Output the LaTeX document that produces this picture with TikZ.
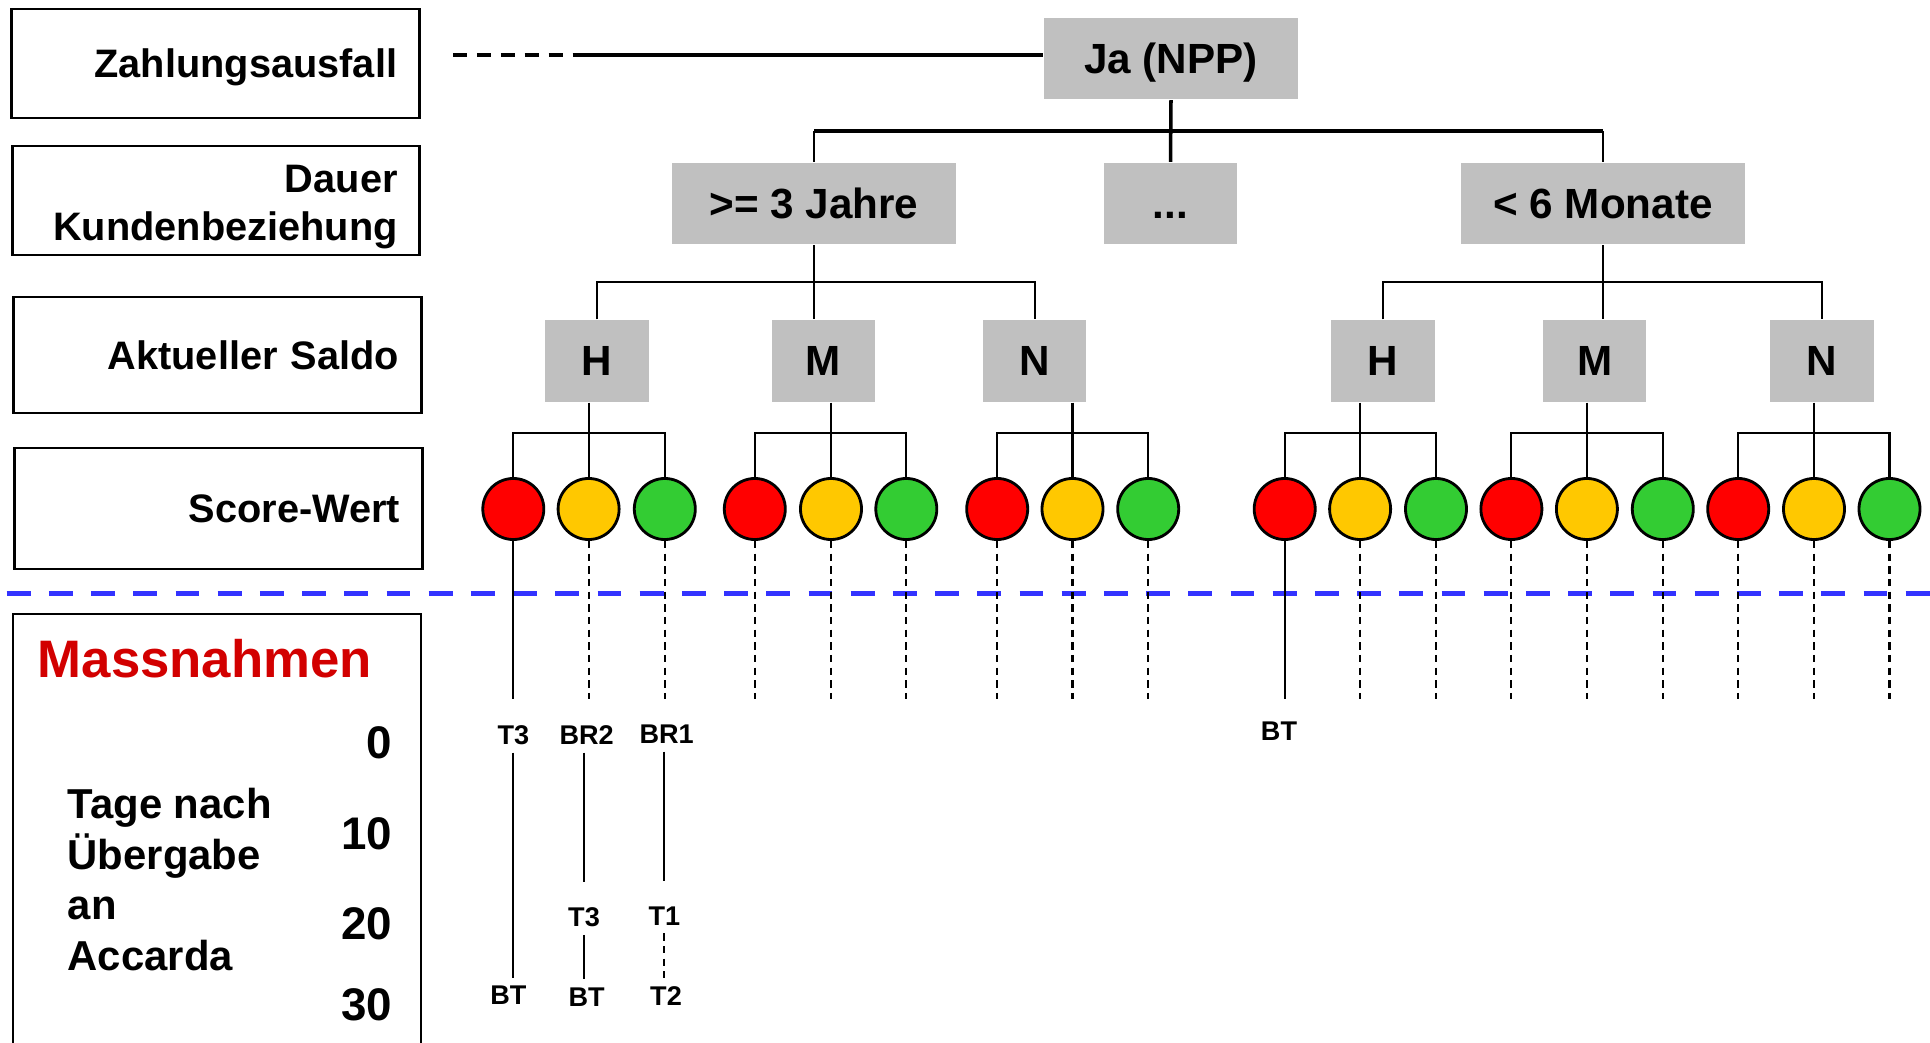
\documentclass[tikz,border=0pt]{standalone}
\usepackage{fontspec}
\setmainfont{Liberation Sans}
\usepackage{tikz}
\definecolor{boxgrey}{RGB}{192,192,192}
\definecolor{ampelrot}{RGB}{255,0,0}
\definecolor{ampelgelb}{RGB}{255,200,0}
\definecolor{ampelgruen}{RGB}{51,204,51}
\definecolor{trennblau}{RGB}{51,51,255}
\definecolor{massrot}{RGB}{210,0,0}

\begin{document}
\begin{tikzpicture}[x=0.01cm,y=-0.01cm,line width=0.6pt,
  rowlabel/.style={draw,line width=0.8pt,text width=3.63cm,inner xsep=0.22cm,align=right,
    font=\fontsize{11.3}{13.7}\selectfont\bfseries},
  greybox/.style={fill=boxgrey,minimum height=0.81cm,inner sep=0pt,text depth=0pt,
    font=\fontsize{12}{14}\selectfont\bfseries},
  hmn/.style={greybox,minimum width=1.03cm},
  score/.style={circle,draw,line width=0.8pt,minimum size=0.61cm,inner sep=0pt},
  scorerot/.style={score,fill=ampelrot},
  scoregelb/.style={score,fill=ampelgelb},
  scoregruen/.style={score,fill=ampelgruen},
  tag/.style={inner sep=2pt,font=\fontsize{7.7}{9}\selectfont\bfseries},
  tick/.style={inner sep=0pt,anchor=east,font=\fontsize{13}{15}\selectfont\bfseries},
  dropdash/.style={dash pattern=on 2.1pt off 1.5pt}]
  \useasboundingbox (0,0) rectangle (1930,1043);

  % linke Spalte
  \draw (215.5,63.5) node[rowlabel,minimum height=1.09cm,text depth=0pt] (zahl) {Zahlungsausfall}
   (216,200.5) node[rowlabel,minimum height=1.09cm,inner ysep=0pt] (dauer) {\rule{0pt}{11.6pt}Dauer\\Kundenbeziehung}
   (217.5,355) node[rowlabel,minimum height=1.16cm] (saldo) {Aktueller Saldo}
   (218.5,508.5) node[rowlabel,minimum height=1.21cm] (scorew) {Score-Wert};
  \draw[line width=0.8pt] (13,1043) -- (13,614) -- (421,614) -- (421,1043);
  \draw (36.7,677) node[anchor=base west,inner sep=0pt,text=massrot,
     font=\fontsize{15}{18}\selectfont\bfseries] (massn) {Massnahmen}
   (66.7,787) node[anchor=north west,inner sep=0pt,align=left,
     font=\fontsize{11.9}{14.4}\selectfont\bfseries] (tage) {Tage nach\\Übergabe\\an\\Accarda}
   (393,743) node[tick] (d0) {0}
   (393,833.3) node[tick] (d10) {10}
   (393,923.3) node[tick] (d20) {20}
   (393,1005) node[tick] (d30) {30};

  % Baum
  \draw (1171,58.5) node[greybox,minimum width=2.54cm] (ja) {Ja (NPP)}
   (814,203.5) node[greybox,minimum width=2.84cm] (jahre) {>= 3 Jahre}
   (1170.5,203.5) node[greybox,minimum width=1.33cm] (dots) {\vphantom{A}...}
   (1603,203.5) node[greybox,minimum width=2.84cm] (monate) {< 6 Monate};
  \draw (597,361) node[hmn] (h1) {H}
   (823.4,361) node[hmn] (m1) {M}
   (1034.9,361) node[hmn] (n1) {N}
   (1383,361) node[hmn] (h2) {H}
   (1594.8,361) node[hmn] (m2) {M}
   (1822,361) node[hmn] (n2) {N};

  \draw (513.3,509) node[scorerot] (r1) {} (588.6,509) node[scoregelb] (y1) {} (664.8,509) node[scoregruen] (g1) {};
  \draw (754.8,509) node[scorerot] (r2) {} (831,509) node[scoregelb] (y2) {} (906.3,509) node[scoregruen] (g2) {};
  \draw (997.2,509) node[scorerot] (r3) {} (1072.5,509) node[scoregelb] (y3) {} (1148.2,509) node[scoregruen] (g3) {};
  \draw (1284.7,509) node[scorerot] (r4) {} (1360.1,509) node[scoregelb] (y4) {} (1436,509) node[scoregruen] (g4) {};
  \draw (1511.4,509) node[scorerot] (r5) {} (1586.9,509) node[scoregelb] (y5) {} (1662.8,509) node[scoregruen] (g5) {};
  \draw (1738.2,509) node[scorerot] (r6) {} (1814,509) node[scoregelb] (y6) {} (1889.5,509) node[scoregruen] (g6) {};

  \coordinate (zl) at (453,55);
  \coordinate (zm) at (585,55);
  \coordinate (jabar) at (1171,131);
  \coordinate (sbar) at (0,282);
  \coordinate (cbar) at (0,433);
  \coordinate (ende) at (0,699);

  \draw[line width=0.9pt,dash pattern=on 4pt off 2.8pt] (zl) -- (zm);
  \draw[line width=0.9pt] (zm) -- (zm -| ja.west);
  \draw[line width=1pt] (ja.south) -- (dots.north);
  \draw[line width=1pt] (jahre.north |- jabar) -- (monate.north |- jabar);
  \draw (jahre.north |- jabar) -- (jahre.north) (monate.north |- jabar) -- (monate.north);

  \draw (jahre.south) -- (jahre.south |- m1.north);
  \draw (h1.north) |- (n1.north |- sbar) -- (n1.north);
  \draw (monate.south) -- (monate.south |- m2.north);
  \draw (h2.north) |- (n2.north |- sbar) -- (n2.north);

  \draw (y1.north |- h1.south) -- (y1.north);
  \draw (r1.north) |- (g1.north |- cbar) -- (g1.north);
  \draw (y2.north |- m1.south) -- (y2.north);
  \draw (r2.north) |- (g2.north |- cbar) -- (g2.north);
  \draw (y3.north |- n1.south) -- (y3.north);
  \draw (r3.north) |- (g3.north |- cbar) -- (g3.north);
  \draw (y4.north |- h2.south) -- (y4.north);
  \draw (r4.north) |- (g4.north |- cbar) -- (g4.north);
  \draw (y5.north |- m2.south) -- (y5.north);
  \draw (r5.north) |- (g5.north |- cbar) -- (g5.north);
  \draw (y6.north |- n2.south) -- (y6.north);
  \draw (r6.north) |- (g6.north |- cbar) -- (g6.north);

  \draw[trennblau,line width=1.5pt,dash pattern=on 6.8pt off 5.2pt] (6.7,593.3) -- (1930,593.3);

  \draw (r1.south) -- (r1.south |- ende);
  \draw (r4.south) -- (r4.south |- ende);
  \draw[dropdash] (y1.south) -- (y1.south |- ende) (g1.south) -- (g1.south |- ende)
   (r2.south) -- (r2.south |- ende) (y2.south) -- (y2.south |- ende) (g2.south) -- (g2.south |- ende)
   (r3.south) -- (r3.south |- ende) (y3.south) -- (y3.south |- ende) (g3.south) -- (g3.south |- ende)
   (y4.south) -- (y4.south |- ende) (g4.south) -- (g4.south |- ende)
   (r5.south) -- (r5.south |- ende) (y5.south) -- (y5.south |- ende) (g5.south) -- (g5.south |- ende)
   (r6.south) -- (r6.south |- ende) (y6.south) -- (y6.south |- ende) (g6.south) -- (g6.south |- ende);

  % Massnahmen je Ast
  \draw (513.3,735) node[tag] (t3a) {T3}
   (586.7,735) node[tag] (br2) {BR2}
   (666.7,734.3) node[tag] (br1) {BR1}
   (584,917.3) node[tag] (t3b) {T3}
   (664.3,916) node[tag] (t1) {T1}
   (508.3,995) node[tag] (bta) {BT}
   (586.7,996.7) node[tag] (btb) {BT}
   (666,995.7) node[tag] (t2) {T2}
   (1279,730.7) node[tag] (btc) {BT};
  \draw (t3a.south) -- (t3a.south |- bta.north);
  \draw[shorten >=5pt] (br2.south -| t3b) -- (t3b.north);
  \draw (t3b.south) -- (t3b.south |- btb.north);
  \draw[shorten >=5pt] (br1.south -| t1) -- (t1.north);
  \draw[dropdash] (t1.south) -- (t1.south |- t2.north);
\end{tikzpicture}
\end{document}
